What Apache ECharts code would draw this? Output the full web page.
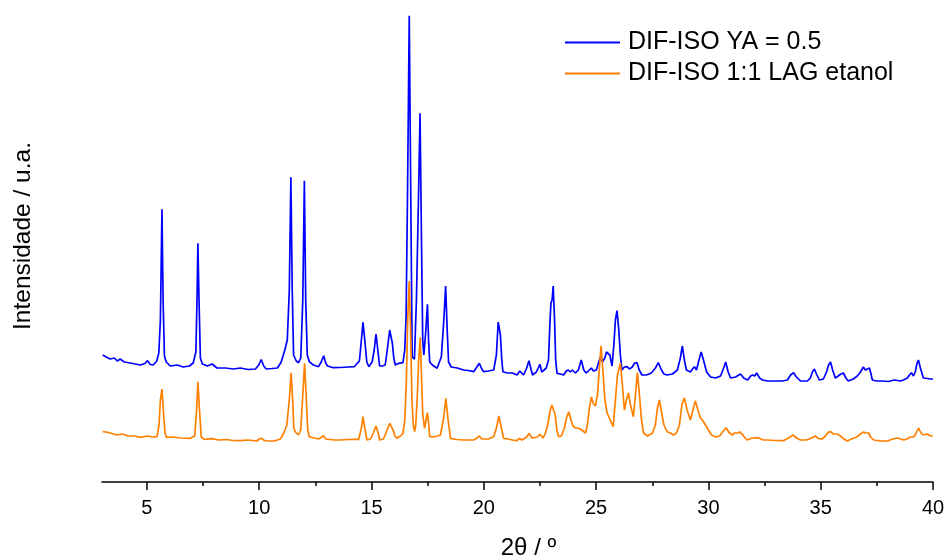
<!DOCTYPE html>
<html>
<head>
<meta charset="utf-8">
<script src="https://cdn.jsdelivr.net/npm/echarts@6/dist/echarts.min.js"></script>
<style>
  html, body { margin: 0; padding: 0; background: #fff; }
  #chart { width: 944px; height: 557px; }
</style>
</head>
<body>
<div id="chart"></div>
<script>
// Powder diffraction patterns: [2θ (°), intensity (a.u., stacked with offset)]
const seriesNames = ['DIF-ISO YA = 0.5', 'DIF-ISO 1:1 LAG etanol'];

const patternYA = [
  [3.03,127],[3.19,125],[3.37,123],[3.55,124],[3.68,121],[3.81,123],[3.99,120],[4.26,119],[4.48,118],[4.71,117],
  [4.91,118.5],[5.03,121.3],[5.15,117.5],[5.28,117],[5.44,121],[5.53,129],[5.60,162],[5.67,272.7],[5.72,182],[5.78,126],
  [5.86,120],[6.04,116],[6.35,117],[6.62,115],[6.89,116],[7.06,119],[7.18,130],[7.23,182],[7.27,238.7],[7.32,182],
  [7.38,124],[7.47,118],[7.69,116],[7.90,118],[8.12,114],[8.49,114],[8.85,113],[9.16,114],[9.51,112.5],[9.83,113],
  [9.98,117],[10.09,122.5],[10.20,116],[10.31,113],[10.58,113.5],[10.81,114],[10.98,120],[11.14,132],[11.25,142],[11.34,192],
  [11.41,304.7],[11.47,192],[11.53,127],[11.65,121],[11.75,119.3],[11.85,124],[11.94,182],[12.01,301.3],[12.07,182],[12.14,127],
  [12.23,120.3],[12.41,117],[12.64,115.3],[12.76,120],[12.87,126.3],[12.96,119],[13.04,116],[13.30,114.3],[13.61,114.5],[13.97,115],
  [14.23,115.3],[14.46,121],[14.55,142],[14.62,159.7],[14.70,142],[14.79,120],[14.88,115.3],[15.03,120.3],[15.12,132],[15.20,148],
  [15.28,132],[15.36,116],[15.48,116],[15.61,117],[15.70,132],[15.81,152],[15.88,144],[15.93,138.7],[15.99,124],[16.06,117],
  [16.21,118.7],[16.40,119.3],[16.48,132],[16.54,165.3],[16.60,282],[16.68,466.3],[16.75,282],[16.81,125.3],[16.87,124],[16.91,122.7],
  [17.00,182],[17.09,282],[17.16,368.7],[17.23,232],[17.28,142],[17.33,127],[17.42,152],[17.49,177.7],[17.54,142],[17.59,120],
  [17.71,117],[17.92,113.7],[18.11,125.3],[18.22,162],[18.30,196],[18.37,152],[18.43,120],[18.55,115],[18.82,114],[19.10,112],
  [19.31,111.5],[19.55,110.3],[19.69,115],[19.80,118.7],[19.91,113],[19.99,110.3],[20.20,111],[20.44,112],[20.56,127],[20.64,160],
  [20.68,160.3],[20.74,147],[20.80,122],[20.85,110.3],[21.05,109],[21.27,109],[21.48,107],[21.60,111],[21.77,107],[21.91,114],
  [22.01,121.3],[22.11,112],[22.17,107],[22.34,110],[22.50,117.7],[22.58,110],[22.66,108.7],[22.78,114],[22.88,122],[22.95,162],
  [22.99,179],[23.04,182],[23.09,196],[23.15,162],[23.20,122],[23.26,108.7],[23.41,108],[23.55,107],[23.67,111],[23.76,112],
  [23.85,110],[23.94,112],[24.08,109],[24.21,112],[24.34,122],[24.45,112],[24.56,109],[24.70,112],[24.79,114],[24.88,111],
  [25.01,112],[25.12,120],[25.19,125],[25.28,120],[25.39,124],[25.46,130],[25.53,132],[25.61,127],[25.71,116],[25.79,137],
  [25.86,162],[25.93,171.3],[26.01,152],[26.08,127],[26.15,112],[26.26,115],[26.38,115.3],[26.48,113],[26.61,115],[26.72,119],
  [26.82,119.3],[26.92,112],[27.04,107],[27.24,107],[27.46,109],[27.64,114],[27.77,119.3],[27.91,112],[28.02,108],[28.16,107],
  [28.40,108],[28.62,112],[28.75,124],[28.84,136],[28.93,122],[29.02,112],[29.20,110],[29.29,113],[29.38,115.3],[29.47,112],
  [29.58,122],[29.68,130],[29.78,122],[29.92,110],[30.10,105],[30.32,104],[30.54,106],[30.68,114],[30.77,120],[30.88,110],
  [30.99,104],[31.21,105],[31.43,108],[31.57,104],[31.75,102],[31.88,106],[31.97,107],[32.06,106],[32.15,109],[32.28,104],
  [32.41,102],[32.63,101],[32.99,101],[33.30,101],[33.52,102],[33.66,107],[33.79,109.3],[33.92,105],[34.10,101],[34.41,101],
  [34.54,104],[34.63,110],[34.72,113],[34.81,108],[34.94,102],[35.12,103],[35.26,110],[35.35,117],[35.44,120],[35.53,112],
  [35.65,104],[35.78,106],[35.90,108],[36.01,109],[36.12,104],[36.23,101],[36.45,103],[36.63,106],[36.77,110],[36.90,115],
  [36.99,112],[37.08,113],[37.17,114],[37.23,109],[37.30,102],[37.48,101],[37.74,101],[38.01,100.5],[38.28,102],[38.55,101],
  [38.68,102],[38.86,104],[38.95,107],[39.04,109.3],[39.13,106],[39.21,110],[39.28,118],[39.35,122],[39.44,114],[39.57,104],
  [39.75,103.5],[39.89,103],[40.00,103]
];

const patternLAG = [
  [3.03,50.3],[3.19,50],[3.37,49],[3.67,47],[3.90,48],[4.17,46],[4.44,46],[4.71,44.7],[5.02,46],[5.24,45],
  [5.45,45.3],[5.54,57],[5.60,82],[5.67,93],[5.73,72],[5.80,50],[5.86,44.7],[6.13,45],[6.49,44],[6.93,43.7],
  [7.13,46],[7.21,72],[7.27,100.3],[7.34,72],[7.42,45],[7.55,42.7],[7.90,43.3],[8.18,42],[8.53,42.5],[8.85,41.5],
  [9.16,41.3],[9.51,42],[9.90,41],[10.00,43],[10.11,43.7],[10.23,41.5],[10.35,41],[10.67,41],[10.94,43],[11.09,48.7],
  [11.23,57],[11.34,82],[11.42,109.3],[11.49,82],[11.54,54],[11.61,50],[11.75,47],[11.85,52],[11.94,87],[12.02,118.7],
  [12.10,82],[12.16,52],[12.23,45.3],[12.45,44],[12.64,43],[12.76,44.5],[12.86,46.3],[12.96,43],[13.04,42],[13.34,42],
  [13.61,42],[13.97,42.5],[14.23,42.7],[14.43,42.7],[14.55,54],[14.62,65.3],[14.70,54],[14.80,42],[14.95,43],[15.08,49],
  [15.20,56],[15.31,48],[15.36,42],[15.53,43],[15.66,50],[15.81,58.7],[15.96,52],[16.04,46],[16.13,43.7],[16.28,46],
  [16.40,48.7],[16.48,62],[16.55,99],[16.61,162],[16.68,201],[16.74,152],[16.80,82],[16.86,57],[16.92,50.3],[16.97,57],
  [17.03,82],[17.10,122],[17.17,144.7],[17.23,102],[17.28,68.7],[17.36,53.7],[17.43,62],[17.49,69.3],[17.55,57],[17.59,45.3],
  [17.76,45],[17.94,46],[18.07,47],[18.21,64],[18.31,83.7],[18.41,62],[18.52,43.7],[18.79,42.5],[19.10,42],[19.40,42],
  [19.55,42],[19.69,44],[19.80,46],[19.91,43],[19.99,41.3],[20.20,43],[20.44,45.3],[20.56,54],[20.67,66],[20.70,67],
  [20.78,54],[20.88,43.7],[21.09,43],[21.27,42],[21.48,41.3],[21.58,43.7],[21.69,42],[21.77,42],[21.91,45],[22.02,48.7],
  [22.14,44],[22.22,42.7],[22.38,45],[22.50,47.7],[22.63,44],[22.74,48.7],[22.85,58],[22.96,72],[23.03,77],[23.11,78.7],
  [23.18,67],[23.25,52],[23.33,45.3],[23.45,46],[23.59,54],[23.68,64],[23.78,70.3],[23.88,62],[23.97,56],[24.08,54],
  [24.17,54],[24.30,53],[24.41,51],[24.53,49],[24.61,57],[24.70,74],[24.79,85],[24.88,78],[24.97,76],[25.06,87],
  [25.14,112],[25.22,136.3],[25.30,112],[25.39,82],[25.49,69],[25.59,64],[25.76,55.3],[25.86,82],[25.95,107],[26.08,119],
  [26.17,97],[26.26,72],[26.35,82],[26.44,89],[26.53,77],[26.66,65.3],[26.75,87],[26.84,109.3],[26.93,87],[27.02,62],
  [27.11,49],[27.29,46],[27.51,49],[27.64,57],[27.73,74],[27.82,82],[27.91,70],[28.02,57],[28.16,50.3],[28.31,49],
  [28.44,47],[28.58,49],[28.71,57],[28.82,77],[28.93,84.3],[29.05,72],[29.20,62],[29.31,72],[29.42,81.3],[29.53,72],
  [29.64,64],[29.73,62],[29.87,57],[30.00,52],[30.14,47],[30.32,45],[30.50,46],[30.63,50],[30.79,54.3],[30.90,50],
  [31.06,47],[31.16,49],[31.30,49],[31.39,50],[31.50,48],[31.60,45],[31.72,42],[31.96,44],[32.22,44.3],[32.44,42],
  [32.62,42],[32.98,41.5],[33.34,41.3],[33.56,44],[33.77,47],[33.92,44],[34.10,42],[34.36,42],[34.59,44],[34.76,46],
  [34.90,43.5],[35.06,43],[35.21,46],[35.35,50],[35.44,50.3],[35.57,48],[35.73,48],[35.88,46],[36.01,43.5],[36.18,41],
  [36.37,43],[36.60,45],[36.77,48],[36.91,50],[37.00,49],[37.13,49],[37.22,45],[37.36,42],[37.67,41],[37.97,41],
  [38.21,43],[38.42,44],[38.56,43],[38.70,42],[38.83,43],[39.01,45],[39.14,45],[39.23,48],[39.36,54],[39.44,50],
  [39.56,47],[39.74,48],[39.89,46],[40.00,46]
];

// Axis marks
const majorTicks = [5, 10, 15, 20, 25, 30, 35, 40];
const minorTicks = [7.5, 12.5, 17.5, 22.5, 27.5, 32.5, 37.5];

const FONT = '"Liberation Sans", Arial, Helvetica, sans-serif';
const chart = echarts.init(document.getElementById('chart'), null, { renderer: 'canvas' });

chart.setOption({
  animation: false,
  backgroundColor: '#ffffff',
  color: ['#0000ff', '#ff8000'],
  grid: { left: 102, right: 11, top: 10, bottom: 75, containLabel: false, outerBoundsMode: 'none' },
  legend: {
    show: true,
    orient: 'vertical',
    left: 565,
    top: 30,
    padding: 0,
    icon: 'rect',
    itemWidth: 55,
    itemHeight: 2,
    itemGap: 6,
    textStyle: { fontFamily: FONT, fontSize: 25, color: '#000', lineHeight: 24, padding: [0, 0, 0, 3] },
    data: seriesNames
  },
  xAxis: [
    {
      type: 'value',
      position: 'bottom',
      min: 3,
      max: 40,
      name: '2θ / º',
      nameLocation: 'middle',
      nameGap: 54,
      nameTextStyle: { fontFamily: FONT, fontSize: 24, color: '#000', padding: [0, 0, 0, 22] },
      axisLine: { show: true, onZero: false, lineStyle: { color: '#000', width: 1.5 } },
      axisTick: { show: true, customValues: majorTicks, length: 8, lineStyle: { color: '#000', width: 1.5 } },
      axisLabel: { show: true, customValues: majorTicks, fontFamily: FONT, fontSize: 20, color: '#000', margin: 16 },
      splitLine: { show: false }
    },
    {
      type: 'value',
      position: 'bottom',
      min: 3,
      max: 40,
      axisLine: { show: false, onZero: false },
      axisTick: { show: true, customValues: minorTicks, length: 4, lineStyle: { color: '#000', width: 1.5 } },
      axisLabel: { show: false },
      splitLine: { show: false }
    }
  ],
  yAxis: {
    type: 'value',
    min: 0,
    max: 472,
    name: 'Intensidade / u.a.',
    nameLocation: 'middle',
    nameRotate: 90,
    nameGap: 66,
    nameTextStyle: { fontFamily: FONT, fontSize: 24.5, color: '#000', padding: [0, 0, 0, 20] },
    axisLine: { show: false },
    axisTick: { show: false },
    axisLabel: { show: false },
    splitLine: { show: false }
  },
  series: [
    {
      name: seriesNames[0],
      type: 'line',
      xAxisIndex: 0,
      data: patternYA,
      symbol: 'none',
      lineStyle: { color: '#0000ff', width: 1.7 },
      itemStyle: { color: '#0000ff' }
    },
    {
      name: seriesNames[1],
      type: 'line',
      xAxisIndex: 0,
      data: patternLAG,
      symbol: 'none',
      lineStyle: { color: '#ff8000', width: 1.7 },
      itemStyle: { color: '#ff8000' }
    }
  ]
});
</script>
</body>
</html>
